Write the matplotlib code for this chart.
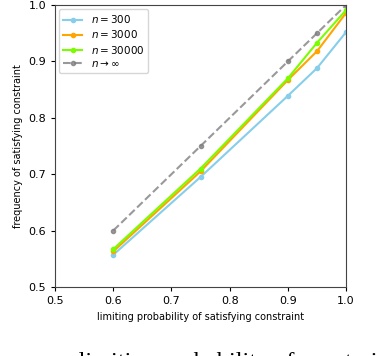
import matplotlib
matplotlib.use("Agg")
import matplotlib.pyplot as plt

limit_p = [0.6, 0.75, 0.9, 0.95, 1.0]
freq_300 = [0.557, 0.695, 0.839, 0.888, 0.952]
freq_3000 = [0.563, 0.705, 0.867, 0.918, 0.986]
freq_30000 = [0.567, 0.710, 0.870, 0.933, 0.991]
freq_inf = [0.6, 0.75, 0.9, 0.95, 1.0]

fig = plt.figure(figsize=(3.88, 3.56), dpi=100)
ax = fig.add_axes([0.142, 0.194, 0.750, 0.792])

ax.plot(limit_p, freq_300, '-o', color='skyblue', lw=1.5, ms=3, label='$n = 300$')
ax.plot(limit_p, freq_3000, '-o', color='orange', lw=1.5, ms=3, label='$n = 3000$')
ax.plot(limit_p, freq_30000, '-o', color='lawngreen', lw=1.5, ms=3, label='$n = 30000$')
ax.plot(limit_p, freq_inf, '--o', color='gray', alpha=0.8, lw=1.5, ms=3, label=r'$n \to \infty$')

ax.set_xlim(0.5, 1.0)
ax.set_ylim(0.5, 1.0)
ax.set_xticks([0.5, 0.6, 0.7, 0.8, 0.9, 1.0])
ax.set_yticks([0.5, 0.6, 0.7, 0.8, 0.9, 1.0])
ax.tick_params(labelsize=8, length=3)
ax.set_xlabel('limiting probability of satisfying constraint', fontsize=7)
ax.set_ylabel('frequency of satisfying constraint', fontsize=7)
for s in ax.spines.values():
    s.set_color('#444444')
ax.legend(loc='upper left', fontsize=7.5, handlelength=1.8, labelspacing=0.3,
          borderaxespad=0.4)

# caption of the source page, cut by the bottom edge
fig.text(-0.02, 1 - 352 / 356, 'n versus limiting probability of constraint',
         family='Liberation Serif', fontsize=17.5, va='top', ha='left')

fig.savefig('out.png', dpi=100)
